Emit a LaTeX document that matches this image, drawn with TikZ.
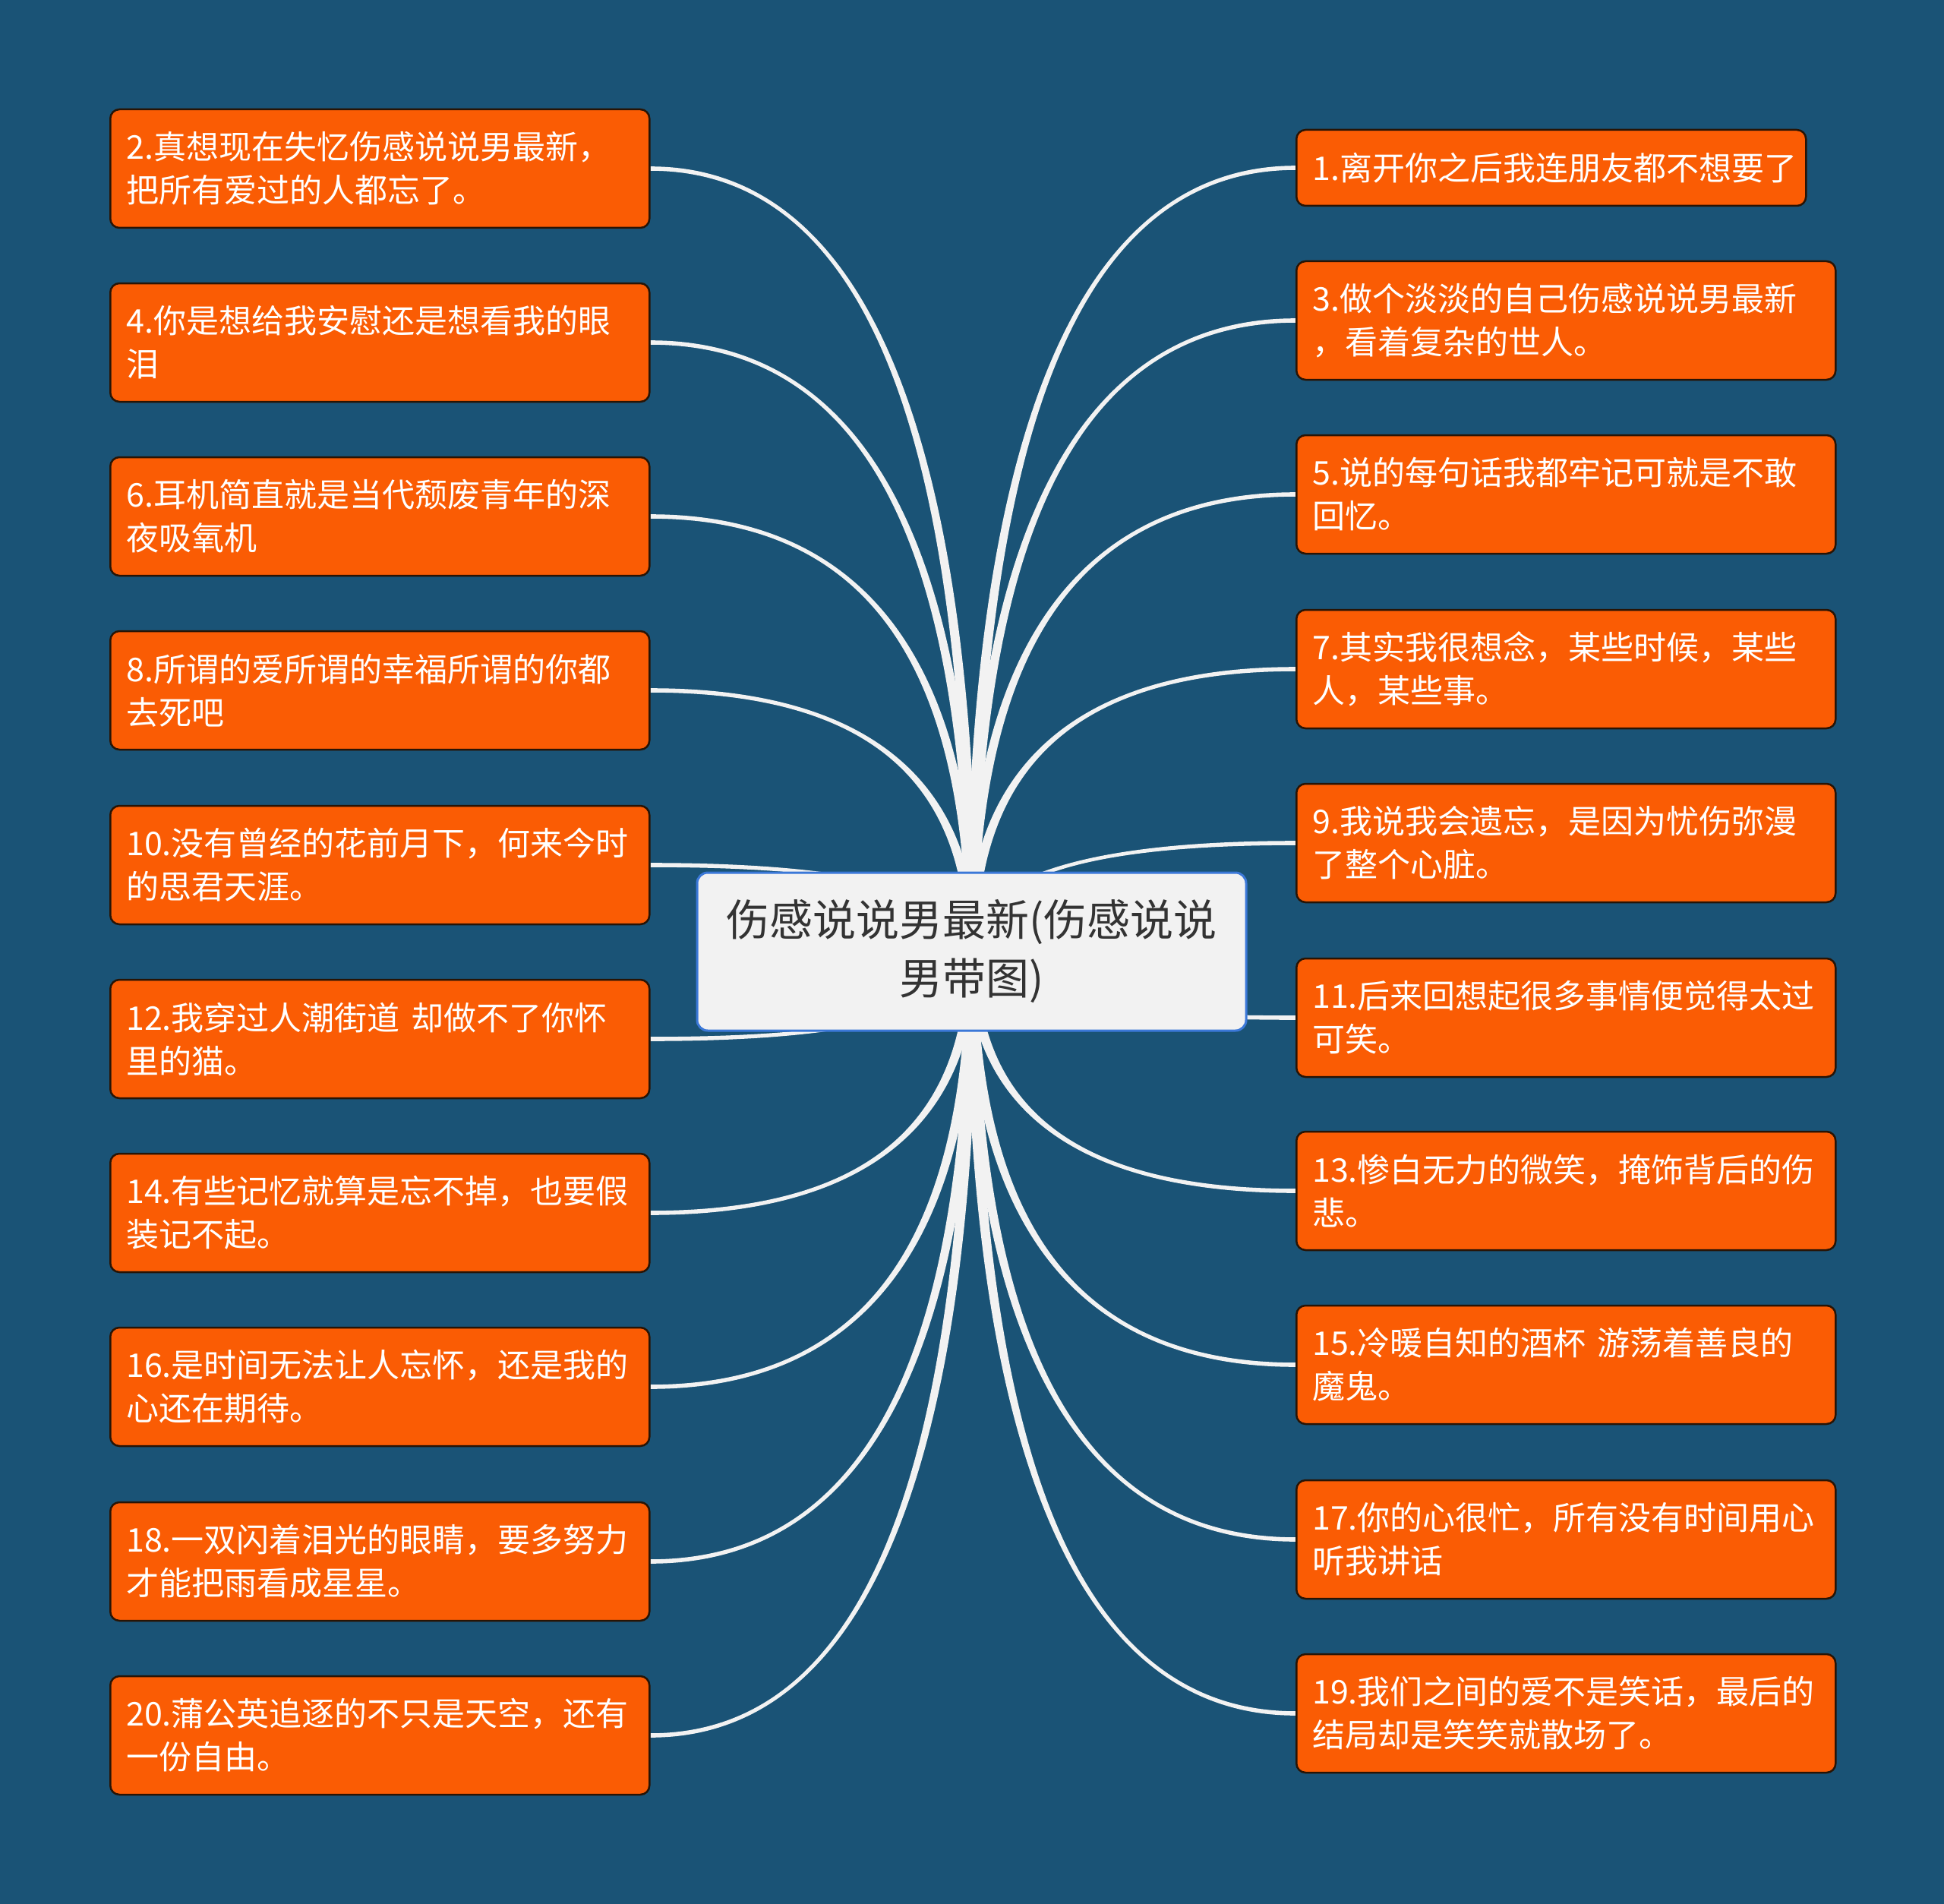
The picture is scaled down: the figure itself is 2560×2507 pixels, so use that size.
\documentclass[tikz,border=0pt]{standalone}
\usepackage{fontspec}
\setmainfont{Noto Sans CJK SC}
\usetikzlibrary{calc,backgrounds}
\definecolor{bg}{RGB}{26,83,118}
\definecolor{orng}{RGB}{250,92,4}
\definecolor{obrd}{RGB}{40,20,5}
\definecolor{rootfill}{RGB}{242,242,242}
\definecolor{rootbrd}{RGB}{59,120,216}
\definecolor{roottext}{RGB}{51,51,51}
\definecolor{linkc}{RGB}{242,242,242}
\newcommand\tconn[3]{%
  \fill[linkc] let \p1=(#1.#2), \p2=(root.center) in
   (\x1,\y1+2.8pt) .. controls ({\x1+0.7*(\x2-\x1)},\y1+2.8pt) and ({\x2+(#3)*7pt},{\y1+0.37*(\y2-\y1)}) .. ({\x2+(#3)*7pt},\y2)
   -- ({\x2-(#3)*7pt},\y2) .. controls ({\x2-(#3)*7pt},{\y1+0.37*(\y2-\y1)}) and ({\x1+0.7*(\x2-\x1)},\y1-2.8pt) .. (\x1,\y1-2.8pt) -- cycle;}
\tikzset{
  leaf/.style={draw=obrd, line width=2.5pt, fill=orng, rounded corners=12pt,
    text=white, font=\fontsize{43}{57}\selectfont, align=left,
    text width=668pt, inner xsep=21pt, inner ysep=0pt, minimum height=156pt, anchor=west},
  rootnode/.style={draw=rootbrd, line width=3pt, fill=rootfill, rounded corners=14pt,
    text=roottext, font=\fontsize{57}{77}\selectfont, align=center,
    minimum width=723pt, minimum height=208pt, inner sep=0pt}
}
\begin{document}
\begin{tikzpicture}[x=1pt,y=-1pt]
\useasboundingbox (0,0) rectangle (2560,2507);
\node[rootnode] (root) at (1279.5,1253) {伤感说说男最新(伤感说说\\男带图)};
% left
\node[leaf] (n2)  at (144,222)  {2.真想现在失忆伤感说说男最新，\\把所有爱过的人都忘了。};
\node[leaf] (n4)  at (144,451)  {4.你是想给我安慰还是想看我的眼\\泪};
\node[leaf] (n6)  at (144,680)  {6.耳机简直就是当代颓废青年的深\\夜吸氧机};
\node[leaf] (n8)  at (144,909)  {8.所谓的爱所谓的幸福所谓的你都\\去死吧};
\node[leaf] (n10) at (144,1139) {10.没有曾经的花前月下，何来今时\\的思君天涯。};
\node[leaf] (n12) at (144,1368) {12.我穿过人潮街道 却做不了你怀\\里的猫。};
\node[leaf] (n14) at (144,1597) {14.有些记忆就算是忘不掉，也要假\\装记不起。};
\node[leaf] (n16) at (144,1826) {16.是时间无法让人忘怀，还是我的\\心还在期待。};
\node[leaf] (n18) at (144,2056) {18.一双闪着泪光的眼睛，要多努力\\才能把雨看成星星。};
\node[leaf] (n20) at (144,2285) {20.蒲公英追逐的不只是天空，还有\\一份自由。};
% right
\node[leaf, text width=629pt, minimum height=100pt] (n1) at (1706,221) {1.离开你之后我连朋友都不想要了};
\node[leaf] (n3)  at (1706,422)  {3.做个淡淡的自己伤感说说男最新\\，看着复杂的世人。};
\node[leaf] (n5)  at (1706,651)  {5.说的每句话我都牢记可就是不敢\\回忆。};
\node[leaf] (n7)  at (1706,881)  {7.其实我很想念，某些时候，某些\\人，某些事。};
\node[leaf] (n9)  at (1706,1110) {9.我说我会遗忘，是因为忧伤弥漫\\了整个心脏。};
\node[leaf] (n11) at (1706,1340) {11.后来回想起很多事情便觉得太过\\可笑。};
\node[leaf] (n13) at (1706,1568) {13.惨白无力的微笑，掩饰背后的伤\\悲。};
\node[leaf] (n15) at (1706,1797) {15.冷暖自知的酒杯 游荡着善良的\\魔鬼。};
\node[leaf] (n17) at (1706,2027) {17.你的心很忙，所有没有时间用心\\听我讲话};
\node[leaf] (n19) at (1706,2256) {19.我们之间的爱不是笑话，最后的\\结局却是笑笑就散场了。};
\begin{pgfonlayer}{background}
\fill[bg] (0,0) rectangle (2560,2507);
\tconn{n2}{east}{1}
\tconn{n4}{east}{1}
\tconn{n6}{east}{1}
\tconn{n8}{east}{1}
\tconn{n10}{east}{1}
\tconn{n12}{east}{-1}
\tconn{n14}{east}{-1}
\tconn{n16}{east}{-1}
\tconn{n18}{east}{-1}
\tconn{n20}{east}{-1}
\tconn{n1}{west}{-1}
\tconn{n3}{west}{-1}
\tconn{n5}{west}{-1}
\tconn{n7}{west}{-1}
\tconn{n9}{west}{-1}
\tconn{n11}{west}{1}
\tconn{n13}{west}{1}
\tconn{n15}{west}{1}
\tconn{n17}{west}{1}
\tconn{n19}{west}{1}
\end{pgfonlayer}
\end{tikzpicture}
\end{document}
